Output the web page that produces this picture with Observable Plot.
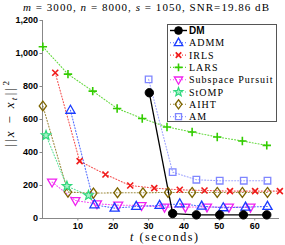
<!DOCTYPE html>
<html>
<head>
<meta charset="utf-8">
<script src="https://cdn.jsdelivr.net/npm/d3@7"></script>
<script src="https://cdn.jsdelivr.net/npm/@observablehq/plot@0.6"></script>
<style>
  html, body { margin: 0; padding: 0; background: white; }
  #chart svg { display: block; }
</style>
</head>
<body>
<div id="chart"></div>
<script>
// ---- data ----
const seriesNames = ["DM", "ADMM", "IRLS", "LARS", "Subspace Pursuit", "StOMP", "AIHT", "AM"];

const dmT = [30.2, 36.8, 43.5, 50.1, 56.8, 63.4];
const dmV = [762, 30, 22, 22, 22, 22];

const admmT = [7.9, 14.7, 20.4, 26.5, 33.1, 38.8, 45.0, 51.1, 57.4, 63.6];
const admmV = [656, 83, 63, 73, 79, 89, 75, 65, 69, 73];

const irlsT = [3.6, 10.5, 17.8, 24.8, 31.6, 38.8, 45.8, 53.0, 60.1, 67.1];
const irlsV = [883, 348, 267, 200, 184, 174, 170, 166, 166, 166];

const larsT = [0.1, 7.2, 14.2, 21.1, 28.2, 35.2, 42.3, 49.4, 56.5, 63.4];
const larsV = [1041, 875, 772, 667, 606, 555, 524, 494, 470, 443];

const spT = [2.7, 9.3, 15.4, 21.4, 28.0, 34.5, 40.4, 46.5, 52.7, 58.8];
const spV = [221, 109, 89, 81, 79, 69, 69, 70, 69, 69];

const stompT = [1.0, 6.9, 13.0];
const stompV = [504, 196, 140];

const aihtT = [0.1, 7.2, 14.4, 21.2, 28.4, 35.5, 42.3, 49.4, 56.5, 63.6];
const aihtV = [682, 160, 154, 156, 156, 158, 158, 158, 158, 158];

const amT = [30.0, 36.8, 43.5, 50.1, 56.9, 63.6];
const amV = [843, 281, 235, 229, 229, 229];

const xTicks = [10, 20, 30, 40, 50, 60];
const yTicks = [0, 200, 400, 600, 800, 1000, 1200];

// ---- symbols ----
const symUp = {draw(c, s) { const k = Math.sqrt(s / Math.PI); c.moveTo(0, -1.1 * k); c.lineTo(k, 0.65 * k); c.lineTo(-k, 0.65 * k); c.closePath(); }};
const symDown = {draw(c, s) { const k = Math.sqrt(s / Math.PI); c.moveTo(0, 1.1 * k); c.lineTo(k, -0.65 * k); c.lineTo(-k, -0.65 * k); c.closePath(); }};
const symSquare = {draw(c, s) { const k = Math.sqrt(s / Math.PI) * 0.78; c.rect(-k, -k, 2 * k, 2 * k); }};
const symDiamond = {draw(c, s) { const k = Math.sqrt(s / Math.PI); c.moveTo(0, -1.15 * k); c.lineTo(0.85 * k, 0); c.lineTo(0, 1.15 * k); c.lineTo(-0.85 * k, 0); c.closePath(); }};
const symPlus = {draw(c, s) { const k = Math.sqrt(s / Math.PI); c.moveTo(-k, 0); c.lineTo(k, 0); c.moveTo(0, -k); c.lineTo(0, k); }};
const symTimes = {draw(c, s) { const k = Math.sqrt(s / Math.PI) * 0.75; c.moveTo(-k, -k); c.lineTo(k, k); c.moveTo(-k, k); c.lineTo(k, -k); }};
const symStar = {draw(c, s) { const k = Math.sqrt(s / Math.PI) * 1.15; const ki = k * 0.42;
  for (let i = 0; i < 10; i++) { const r = i % 2 ? ki : k; const a = -Math.PI / 2 + i * Math.PI / 5;
    const x = r * Math.cos(a), y = r * Math.sin(a); if (i) c.lineTo(x, y); else c.moveTo(x, y); } c.closePath(); }};
const symCircle = {draw(c, s) { const k = Math.sqrt(s / Math.PI); c.moveTo(k, 0); c.arc(0, 0, k, 0, 2 * Math.PI); }};

const zip = (T, V) => T.map((t, i) => ({t, v: V[i]}));

const series = [
  {name: "AM", data: zip(amT, amV), color: "#7f86ff", symbol: symSquare, r: 4.2, fill: "none", sw: 1.3, dash: "1,2"},
  {name: "AIHT", data: zip(aihtT, aihtV), color: "#7d6500", symbol: symDiamond, r: 4.3, fill: "none", sw: 1.3, dash: "1,2"},
  {name: "StOMP", data: zip(stompT, stompV), color: "#2fd87c", symbol: symStar, r: 4.3, fill: "#a8f0c8", sw: 1.2, dash: "1,2"},
  {name: "Subspace Pursuit", data: zip(spT, spV), color: "#f020f0", symbol: symDown, r: 4.5, fill: "none", sw: 1.3, dash: "1,2"},
  {name: "LARS", data: zip(larsT, larsV), color: "#33cc00", symbol: symPlus, r: 4.2, fill: "none", sw: 1.6, dash: "1,2"},
  {name: "IRLS", data: zip(irlsT, irlsV), color: "#f01a1a", symbol: symTimes, r: 4.0, fill: "none", sw: 1.6, dash: "1,2"},
  {name: "ADMM", data: zip(admmT, admmV), color: "#1a3cff", symbol: symUp, r: 4.6, fill: "none", sw: 1.3, dash: "1,2"},
  {name: "DM", data: zip(dmT, dmV), color: "#000000", symbol: symCircle, r: 4.2, fill: "#000000", sw: 1, dash: null}
];

const marks = [
  Plot.ruleY([0], {stroke: "#888", strokeWidth: 1}),
  Plot.ruleX([0], {stroke: "#888", strokeWidth: 1}),
  Plot.axisX({ticks: xTicks, tickSize: 2.5, tickPadding: 2, label: null, stroke: "#888", fontWeight: "bold"}),
  Plot.axisY({ticks: yTicks, tickSize: 2.5, tickPadding: 2, label: null, stroke: "#888", fontWeight: "bold"})
];
for (const s of series) {
  marks.push(Plot.line(s.data, {x: "t", y: "v", stroke: s.color, strokeWidth: s.dash ? 1.1 : 1.3, strokeDasharray: s.dash || undefined, strokeOpacity: s.dash ? 0.75 : 1}));
}
for (const s of series) {
  marks.push(Plot.dot(s.data, {x: "t", y: "v", symbol: s.symbol, r: s.r, stroke: s.color, fill: s.fill, strokeWidth: s.sw}));
}

const chart = Plot.plot({
  width: 285, height: 245,
  marginLeft: 42, marginRight: 6, marginTop: 20, marginBottom: 27,
  x: {domain: [0, 67]},
  y: {domain: [0, 1200]},
  style: {fontFamily: "'Liberation Sans', Arial, sans-serif", fontSize: "9px", color: "black", background: "white"},
  marks
});

const svg = d3.select(chart);
const serif = "'Liberation Serif', 'DejaVu Serif', serif";

// title
const title = svg.append("text").attr("x", 146).attr("y", 11).attr("text-anchor", "middle")
  .attr("font-family", serif).attr("font-size", 11).attr("fill", "black")
  .attr("textLength", 246).attr("lengthAdjust", "spacing");
title.append("tspan").attr("font-style", "italic").text("m");
title.append("tspan").text(" = 3000, ");
title.append("tspan").attr("font-style", "italic").text("n");
title.append("tspan").text(" = 8000, ");
title.append("tspan").attr("font-style", "italic").text("s");
title.append("tspan").text(" = 1050, SNR=19.86 dB");

// x label
const xl = svg.append("text").attr("x", 164).attr("y", 241).attr("text-anchor", "middle")
  .attr("font-family", serif).attr("font-size", 12).attr("fill", "black")
  .attr("textLength", 68).attr("lengthAdjust", "spacing");
xl.append("tspan").attr("font-style", "italic").text("t");
xl.append("tspan").text(" (seconds)");

// y label
const yl = svg.append("text").attr("transform", "translate(14,114) rotate(-90)").attr("text-anchor", "middle")
  .attr("font-family", serif).attr("font-size", 13).attr("fill", "black")
  .attr("textLength", 66).attr("lengthAdjust", "spacing");
yl.append("tspan").text("||");
yl.append("tspan").attr("font-style", "italic").text("x");
yl.append("tspan").text(" − ");
yl.append("tspan").attr("font-style", "italic").text("x");
yl.append("tspan").attr("font-style", "italic").attr("font-size", 9).attr("dy", 2.5).text("t");
yl.append("tspan").attr("dy", -2.5).text("||");
yl.append("tspan").attr("font-size", 9).attr("dy", -5).text("2");

// legend
const lg = svg.append("g").attr("text-anchor", "start");
lg.append("rect").attr("x", 167.5).attr("y", 24.5).attr("width", 109).attr("height", 97)
  .attr("fill", "white").attr("stroke", "#555").attr("stroke-width", 1);
const legendOrder = seriesNames.map(n => series.find(s => s.name === n));
legendOrder.forEach((s, i) => {
  const y = 30.5 + i * 12.3;
  lg.append("line").attr("x1", 170).attr("x2", 187).attr("y1", y).attr("y2", y)
    .attr("stroke", s.color).attr("stroke-width", s.dash ? 1.1 : 1.4)
    .attr("stroke-dasharray", s.dash).attr("stroke-opacity", s.dash ? 0.8 : 1);
  lg.append("path").attr("transform", `translate(178.5,${y})`)
    .attr("d", d3.symbol(s.symbol, Math.PI * s.r * s.r * 0.85)())
    .attr("stroke", s.color).attr("fill", s.fill).attr("stroke-width", s.sw);
  const t = lg.append("text").attr("x", 189).attr("y", y + 3.5).attr("text-anchor", "start")
    .attr("fill", "black").text(s.name);
  if (s.name === "DM") {
    t.attr("font-family", "'Liberation Sans', Arial, sans-serif").attr("font-weight", "bold").attr("font-size", 10);
  } else {
    t.attr("font-family", serif).attr("font-size", 10).attr("letter-spacing", 1);
  }
});

document.getElementById("chart").appendChild(chart);
</script>
</body>
</html>
